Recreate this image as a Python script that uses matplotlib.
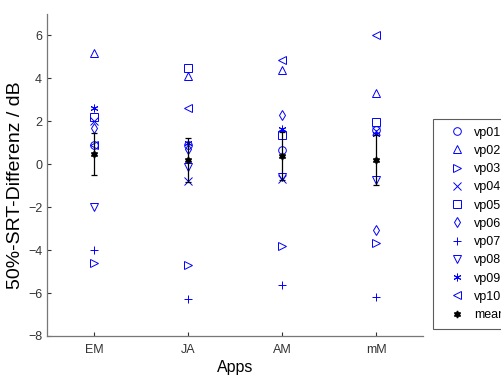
import matplotlib
matplotlib.use("Agg")
import matplotlib.pyplot as plt

plt.rcParams["font.family"] = ["Liberation Sans", "DejaVu Sans"]

apps = ["EM", "JA", "AM", "mM"]
subjects = ["vp01", "vp02", "vp03", "vp04", "vp05", "vp06", "vp07", "vp08", "vp09", "vp10"]

# SRT-Differenz je Proband (EM, JA, AM, mM)
vp01 = [0.9, 0.9, 0.65, 1.6]
vp02 = [5.2, 4.1, 4.37, 3.3]
vp03 = [-4.6, -4.7, -3.8, -3.67]
vp04 = [2.0, -0.8, -0.7, 1.55]
vp05 = [2.2, 4.5, 1.35, 1.95]
vp06 = [1.7, 0.7, 2.28, -3.07]
vp07 = [-4.0, -6.3, -5.63, -6.2]
vp08 = [-2.0, -0.12, -0.6, -0.74]
vp09 = [2.6, 1.0, 1.66, 1.4]
vp10 = [0.9, 2.6, 4.84, 6.0]

mean_vals = [0.48, 0.2, 0.4, 0.2]
sem_vals = [0.96, 1.02, 1.12, 1.17]

series = [vp01, vp02, vp03, vp04, vp05, vp06, vp07, vp08, vp09, vp10]
markers = ["o", "^", ">", "x", "s", "d", "+", "v", (6, 2, 0), "<"]

fig = plt.figure(figsize=(5.02, 3.76), dpi=100)
ax = fig.add_axes([0.0936, 0.1064, 0.749, 0.8564])

x = list(range(1, len(apps) + 1))
handles = []
for name, vals, m in zip(subjects, series, markers):
    h, = ax.plot(x, vals, linestyle="none", marker=m, markersize=5.5,
                 markerfacecolor="none", markeredgecolor="#0000ff",
                 markeredgewidth=0.7, label=name)
    handles.append(h)

ax.errorbar(x, mean_vals, yerr=sem_vals, fmt="none", ecolor="black",
            elinewidth=0.9, capsize=2.5, capthick=0.9)
hm, = ax.plot(x, mean_vals, linestyle="none", marker=(6, 1, 0), markersize=5,
              color="black", label="mean")
handles.append(hm)

ax.set_xlim(0.5, 4.5)
ax.set_ylim(-8, 7)
ax.set_xticks(x)
ax.set_xticklabels(apps)
ax.set_yticks(range(-8, 7, 2))
ax.tick_params(direction="in", length=3, labelsize=9, colors="#333333")
ax.tick_params(axis="x", pad=6)
ax.spines["top"].set_visible(False)
ax.spines["right"].set_visible(False)
for s in ("left", "bottom"):
    ax.spines[s].set_color("#777777")
    ax.spines[s].set_linewidth(0.9)

ax.set_xlabel("Apps", fontsize=11.5, labelpad=3)
ax.set_ylabel("50%-SRT-Differenz / dB", fontsize=14)
ax.yaxis.set_label_coords(-0.061, 0.469)

leg = fig.legend(handles=handles, loc="upper left", bbox_to_anchor=(0.8625, 0.6835),
                 borderaxespad=0, fontsize=9, frameon=True, fancybox=False,
                 handlelength=2.6, handletextpad=0.1, labelspacing=0.5,
                 borderpad=0.6)
leg.get_frame().set_edgecolor("#333333")
leg.get_frame().set_linewidth(0.8)

fig.savefig("out.png", dpi=100)
